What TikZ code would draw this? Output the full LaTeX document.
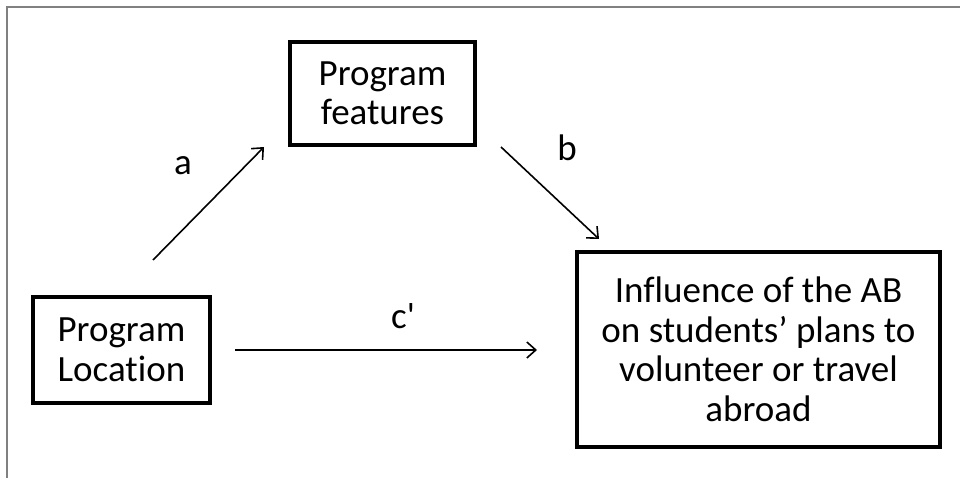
\documentclass[tikz,border=0pt]{standalone}
\usepackage{fontspec}
\setmainfont{Carlito}[Ligatures={TeXOff,NoCommon}]
\usetikzlibrary{arrows.meta}
\begin{document}
\begin{tikzpicture}[x=1pt,y=-1pt,
  box/.style={draw=black,line width=3.3pt,align=center,inner sep=0pt,
    font=\fontsize{37}{39.5}\selectfont},
  conn/.style={line width=1.6pt,-{Straight Barb[length=9pt,width=16pt,line width=1.6pt]}},
  lbl/.style={font=\fontsize{37}{39.5}\selectfont,inner sep=0pt},
  frame/.style={draw=black!50,line width=1.5pt}]
\useasboundingbox (0,0) rectangle (960,478);
\coordinate (fa) at (7,478);
\coordinate (fb) at (7,7);
\coordinate (fc) at (960,7);
\draw[frame] (fa) -- (fb) -- (fc);
\node[box,minimum width=185pt,minimum height=103pt] (feat) at (382.5,93.5) {Program\\features};
\node[box,minimum width=177pt,minimum height=106pt] (loc) at (121.5,350) {Program\\Location};
\node[box,minimum width=363pt,minimum height=195pt] (infl) at (758.5,349.5)
  {Influence of the AB\\on students’ plans to\\volunteer or travel\\abroad};
\coordinate (a1) at (153,260);
\coordinate (a2) at (264,147);
\coordinate (b1) at (501,147);
\coordinate (b2) at (599,239);
\coordinate (c1) at (235,350);
\coordinate (c2) at (537,350);
\draw[conn] (a1) -- (a2);
\draw[conn] (b1) -- (b2);
\draw[conn] (c1) -- (c2);
\node[lbl] (la) at (183,166) {a};
\node[lbl] (lb) at (567,148) {b};
\node[lbl] (lc) at (403,316) {c'};
\end{tikzpicture}
\end{document}
